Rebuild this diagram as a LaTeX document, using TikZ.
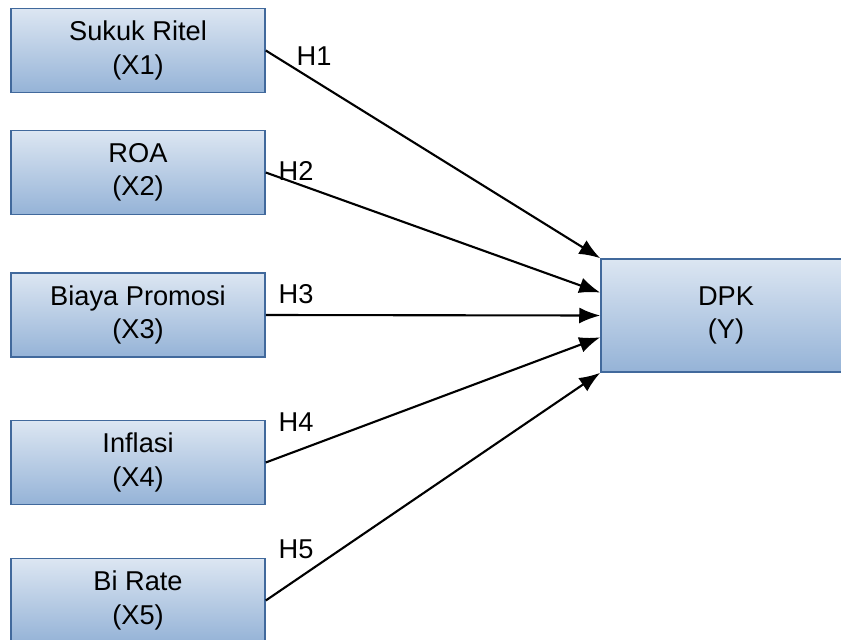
\documentclass[tikz,border=0pt]{standalone}
\usepackage{fontspec}
\setmainfont{Liberation Sans}
\usepackage{tikz}
\usetikzlibrary{arrows.meta,calc,positioning}
\definecolor{boxtop}{HTML}{DCE6F2}
\definecolor{boxbot}{HTML}{95B3D7}
\definecolor{boxline}{HTML}{41699C}
\tikzset{
	varbox/.style={draw=boxline, line width=0.9pt, top color=boxtop, bottom color=boxbot,
		minimum width=5.08cm, minimum height=1.68cm, align=center,
		font=\fontsize{15.5}{19}\selectfont, inner sep=0pt},
	hyp/.style={-{Latex[length=4.2mm,width=3.2mm]}, line width=1.2pt},
	hlabel/.style={font=\fontsize{15.5}{17}\selectfont, inner sep=0pt}
}

\begin{document}
\begin{tikzpicture}[x=0.02cm, y=-0.02cm]

	\useasboundingbox (0,0) rectangle (841,639);
	\clip (0,0) rectangle (841,639);

	% independent variables
	\node[varbox] (x1) at (138,50.5) {Sukuk Ritel\\(X1)};
	\node[varbox] (x2) at (138,172.5) {ROA\\(X2)};
	\node[varbox] (x3) at (138,315) {Biaya Promosi\\(X3)};
	\node[varbox] (x4) at (138,462.5) {Inflasi\\(X4)};
	\node[varbox] (x5) at (138,600.5) {Bi Rate\\(X5)};

	% dependent variable
	\node[varbox, minimum width=5cm, minimum height=2.26cm] (y) at (726,315.5) {DPK\\(Y)};

	\coordinate (t2) at ($(y.north west)!0.30!(y.south west)$);
	\coordinate (t4) at ($(y.north west)!0.69!(y.south west)$);

	% paths
	\draw[hyp] (x1.east) -- (y.north west);
	\draw[hyp] (x2.east) -- (t2);
	\draw[hyp] (x3.east) -- (y.west);
	\draw[hyp] (x4.east) -- (t4);
	\draw[hyp] (x5.east) -- (y.south west);

	\node[hlabel] (h1) at (314,56) {H1};
	\node[hlabel] (h2) at (296,171) {H2};
	\node[hlabel] (h3) at (296,294) {H3};
	\node[hlabel] (h4) at (296,422) {H4};
	\node[hlabel] (h5) at (296,549) {H5};

\end{tikzpicture}
\end{document}
